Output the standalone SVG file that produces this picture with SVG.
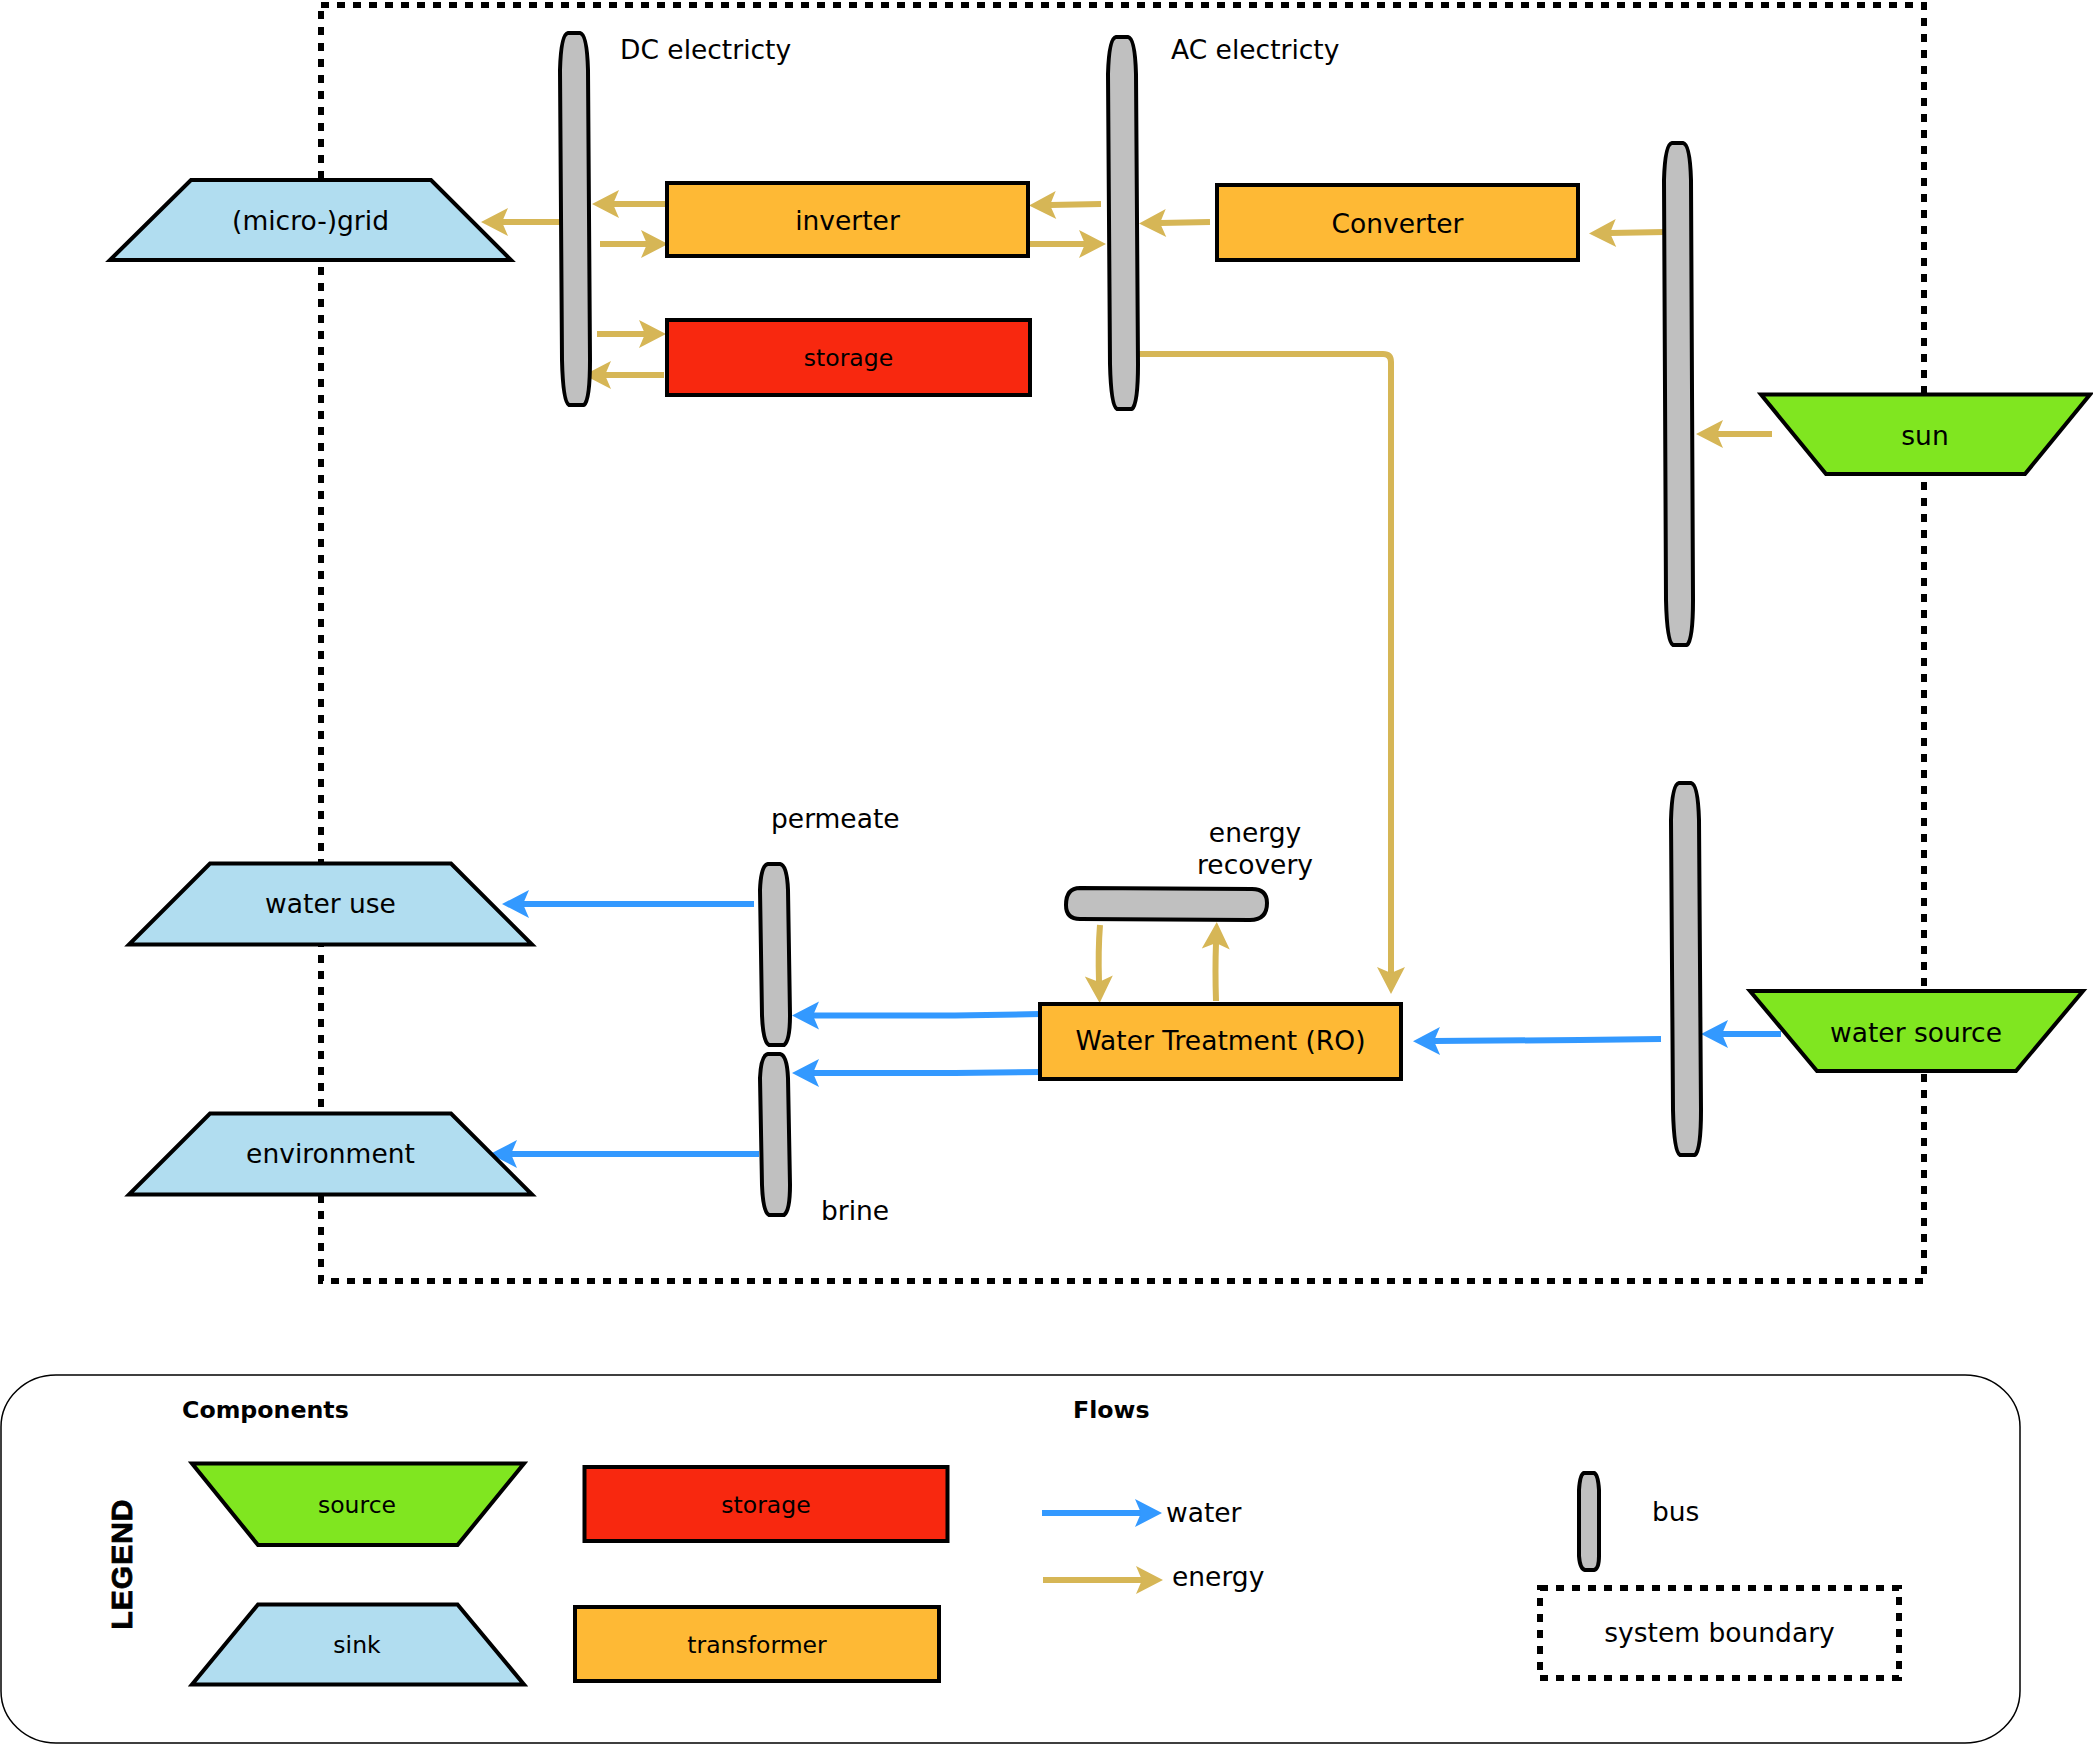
<svg xmlns="http://www.w3.org/2000/svg" width="2093" height="1745" viewBox="0 0 2093 1745">
  <style>
    .lbl { font-family: "DejaVu Sans", "Noto Sans", sans-serif; font-size: 26.5px; fill: #000; }
    .sm { font-size: 23.5px; }
    .mid { text-anchor: middle; }
    .hdr { font-family: "DejaVu Sans", sans-serif; font-weight: bold; font-size: 23.7px; fill: #000; }
    .bound { fill: none; stroke: #000; stroke-width: 6; stroke-dasharray: 8 8; }
    .sink { fill: #b1ddf0; stroke: #000; stroke-width: 4; stroke-linejoin: miter; }
    .source { fill: #80e620; stroke: #000; stroke-width: 4; }
    .transformer { fill: #feb935; stroke: #000; stroke-width: 4; }
    .storage { fill: #f8280f; stroke: #000; stroke-width: 4; }
    .bus { fill: #c0c0c0; stroke: #000; stroke-width: 4; stroke-linejoin: round; }
    .energy { fill: none; stroke: #d6b656; stroke-width: 6; }
    .water { fill: none; stroke: #3399ff; stroke-width: 6; }
  </style>
  <defs>
    <marker id="headEnergy" markerUnits="userSpaceOnUse" markerWidth="40" markerHeight="40" viewBox="-10 -20 40 40" refX="0" refY="0" orient="auto" overflow="visible">
      <path d="M21,0 L-6,-14 L0,0 L-6,14 Z" fill="#d6b656"/>
    </marker>
    <marker id="headWater" markerUnits="userSpaceOnUse" markerWidth="40" markerHeight="40" viewBox="-10 -20 40 40" refX="0" refY="0" orient="auto" overflow="visible">
      <path d="M21,0 L-6,-14 L0,0 L-6,14 Z" fill="#3399ff"/>
    </marker>
  </defs>

  <rect width="2093" height="1745" fill="#ffffff"/>

  <!-- system boundary -->
  <rect id="system-boundary" class="bound" x="321" y="5" width="1603" height="1276"/>

  <!-- connectors -->
  <g id="connectors">
    <!-- energy -->
    <path class="energy" d="M560,222 L502,222" marker-end="url(#headEnergy)"/>
    <path class="energy" d="M667,204 L613,204" marker-end="url(#headEnergy)"/>
    <path class="energy" d="M600,244 L647,244" marker-end="url(#headEnergy)"/>
    <path class="energy" d="M597,334 L645,334" marker-end="url(#headEnergy)"/>
    <path class="energy" d="M664,375 L605,375" marker-end="url(#headEnergy)"/>
    <path class="energy" d="M1101,204 L1050,205" marker-end="url(#headEnergy)"/>
    <path class="energy" d="M1030,244 L1085,244" marker-end="url(#headEnergy)"/>
    <path class="energy" d="M1210,222 L1160,223" marker-end="url(#headEnergy)"/>
    <path class="energy" d="M1665,232 L1610,233" marker-end="url(#headEnergy)"/>
    <path class="energy" d="M1772,434 L1717,434" marker-end="url(#headEnergy)"/>
    <path class="energy" d="M1138,354 L1383,354 Q1391,354 1391,362 L1391,973" marker-end="url(#headEnergy)"/>
    <path class="energy" d="M1100,925 Q1098,950 1099,982" marker-end="url(#headEnergy)"/>
    <path class="energy" d="M1216,1001 Q1215,970 1216,943" marker-end="url(#headEnergy)"/>
    <!-- water -->
    <path class="water" d="M1781,1034 L1722,1034" marker-end="url(#headWater)"/>
    <path class="water" d="M1661,1039 L1580,1040 L1434,1041" marker-end="url(#headWater)"/>
    <path class="water" d="M1040,1014 L955,1015.5 L813,1015.5" marker-end="url(#headWater)"/>
    <path class="water" d="M1041,1072 L955,1073 L813,1073" marker-end="url(#headWater)"/>
    <path class="water" d="M754,904 L523,904" marker-end="url(#headWater)"/>
    <path class="water" d="M759,1154 L511,1154" marker-end="url(#headWater)"/>
  </g>

  <!-- sinks -->
  <g id="grid">
    <polygon class="sink" points="191,180 431,180 511,260 110,260"/>
    <text class="lbl mid" x="310.5" y="230">(micro-)grid</text>
  </g>
  <g id="water-use">
    <polygon class="sink" points="210,863.5 451,863.5 532,944.5 129,944.5"/>
    <text class="lbl mid" x="330.5" y="913">water use</text>
  </g>
  <g id="environment">
    <polygon class="sink" points="210,1113.5 451,1113.5 532,1194.5 129,1194.5"/>
    <text class="lbl mid" x="330.5" y="1163">environment</text>
  </g>

  <!-- sources -->
  <g id="sun">
    <polygon class="source" points="1761,394.5 2090,394.5 2025,474 1826,474"/>
    <text class="lbl mid" x="1925" y="445">sun</text>
  </g>
  <g id="water-source">
    <polygon class="source" points="1750,991 2083,991 2016,1071 1817,1071"/>
    <text class="lbl mid" x="1916" y="1042">water source</text>
  </g>

  <!-- transformers and storage -->
  <g id="inverter">
    <rect class="transformer" x="667" y="183" width="361" height="73"/>
    <text class="lbl mid" x="847.5" y="230">inverter</text>
  </g>
  <g id="storage">
    <rect class="storage" x="667" y="320" width="363" height="75"/>
    <text class="lbl sm mid" x="848.5" y="366">storage</text>
  </g>
  <g id="converter">
    <rect class="transformer" x="1217" y="185" width="361" height="75"/>
    <text class="lbl mid" x="1397.5" y="233">Converter</text>
  </g>
  <g id="water-treatment">
    <rect class="transformer" x="1040" y="1004" width="361" height="75"/>
    <text class="lbl mid" x="1220.5" y="1050">Water Treatment (RO)</text>
  </g>

  <!-- buses: tall rounded bars, slightly tapered at both ends -->
  <g id="dc-bus">
    <path class="bus" d="M568,33 L580,33 Q587,34 588,70 L590,360 Q590,400 584,405 L569,405 Q563,402 562,360 L560,70 Q561,34 568,33 Z"/>
    <text class="lbl" x="620" y="59">DC electricty</text>
  </g>
  <g id="ac-bus">
    <path class="bus" d="M1116,37 L1128,37 Q1135,38 1136,74 L1138,364 Q1138,404 1132,409 L1117,409 Q1111,406 1110,364 L1108,74 Q1109,38 1116,37 Z"/>
    <text class="lbl" x="1171" y="59">AC electricty</text>
  </g>
  <g id="pv-bus">
    <path class="bus" d="M1672,143 L1683,143 Q1690,144 1691,180 L1693,600 Q1693,640 1687,645 L1673,645 Q1667,642 1666,600 L1664,180 Q1665,144 1672,143 Z"/>
  </g>
  <g id="raw-water-bus">
    <path class="bus" d="M1679,783 L1691,783 Q1698,784 1699,820 L1701,1110 Q1701,1150 1695,1155 L1680,1155 Q1674,1152 1673,1110 L1671,820 Q1672,784 1679,783 Z"/>
  </g>
  <g id="permeate-bus">
    <path class="bus" d="M768,864 L780,864 Q787,865 788,890 L790,1015 Q790,1041 784,1045 L769,1045 Q763,1042 762,1015 L760,890 Q761,865 768,864 Z"/>
    <text class="lbl" x="771" y="828">permeate</text>
  </g>
  <g id="brine-bus">
    <path class="bus" d="M768,1054 L780,1054 Q787,1055 788,1078 L790,1185 Q790,1211 784,1215 L769,1215 Q763,1212 762,1185 L760,1078 Q761,1055 768,1054 Z"/>
    <text class="lbl" x="821" y="1220">brine</text>
  </g>
  <g id="energy-recovery-bus">
    <path class="bus" d="M1080,888 L1252,889 Q1267,889 1267,903 Q1267,920 1250,920 L1080,919 Q1066,919 1066,905 Q1066,888 1080,888 Z"/>
    <text class="lbl mid" x="1255" y="842">energy</text>
    <text class="lbl mid" x="1255" y="874">recovery</text>
  </g>

  <!-- legend -->
  <g id="legend">
    <rect x="1" y="1375" width="2019" height="368" rx="55" ry="52" fill="none" stroke="#000" stroke-width="1.5"/>
    <text transform="translate(131.5,1564) rotate(-90)" text-anchor="middle" font-family="Liberation Sans, Arial, sans-serif" font-weight="bold" font-size="30" letter-spacing="1" stroke="#000" stroke-width="0.8">LEGEND</text>
    <text class="hdr" x="182" y="1418">Components</text>
    <text class="hdr" x="1073" y="1418">Flows</text>

    <g id="legend-source">
      <polygon class="source" points="192,1463.5 524,1463.5 457.5,1545 258,1545"/>
      <text class="lbl sm mid" x="357" y="1513">source</text>
    </g>
    <g id="legend-sink">
      <polygon class="sink" points="258,1604.5 457.5,1604.5 524,1684.5 192,1684.5"/>
      <text class="lbl sm mid" x="357" y="1653">sink</text>
    </g>
    <g id="legend-storage">
      <rect class="storage" x="584.5" y="1467" width="363" height="74"/>
      <text class="lbl sm mid" x="766" y="1513">storage</text>
    </g>
    <g id="legend-transformer">
      <rect class="transformer" x="575" y="1607" width="364" height="74"/>
      <text class="lbl sm mid" x="757" y="1653">transformer</text>
    </g>
    <g id="legend-water">
      <path class="water" d="M1042,1513 L1141,1513" marker-end="url(#headWater)"/>
      <text class="lbl" x="1166" y="1522">water</text>
    </g>
    <g id="legend-energy">
      <path class="energy" d="M1043,1580 L1142,1580" marker-end="url(#headEnergy)"/>
      <text class="lbl" x="1172" y="1586">energy</text>
    </g>
    <g id="legend-bus">
      <path class="bus" d="M1584,1473 L1594,1473 Q1598,1474 1599,1490 L1599,1556 Q1599,1569 1594,1570 L1585,1570 Q1580,1569 1579,1556 L1579,1490 Q1580,1474 1584,1473 Z"/>
      <text class="lbl" x="1652" y="1521">bus</text>
    </g>
    <g id="legend-boundary">
      <rect class="bound" x="1540" y="1588" width="359" height="90"/>
      <text class="lbl mid" x="1719.5" y="1642">system boundary</text>
    </g>
  </g>
</svg>
